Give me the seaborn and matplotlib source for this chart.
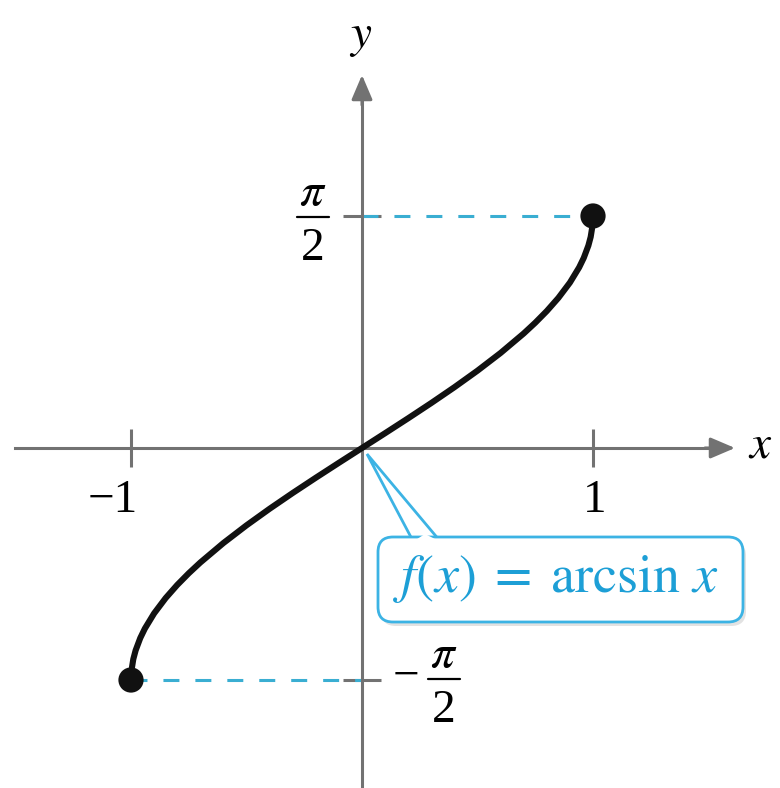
import matplotlib
matplotlib.use('Agg')
import matplotlib.pyplot as plt
from matplotlib.patches import FancyBboxPatch, Polygon
from matplotlib.lines import Line2D
from matplotlib.transforms import Affine2D
import seaborn as sns

# arcsin curve, values
curve_x = [-1.0, -0.998, -0.99, -0.98, -0.96, -0.94, -0.9, -0.85, -0.8, -0.75, -0.7,
           -0.6, -0.5, -0.4, -0.3, -0.2, -0.1, 0.0, 0.1, 0.2, 0.3, 0.4, 0.5, 0.6,
           0.7, 0.75, 0.8, 0.85, 0.9, 0.94, 0.96, 0.98, 0.99, 0.998, 1.0]
curve_y = [-1.5708, -1.5075, -1.4293, -1.3705, -1.2870, -1.2226, -1.1198, -1.0160, -0.9273, -0.8481, -0.7754,
           -0.6435, -0.5236, -0.4115, -0.3047, -0.2014, -0.1002, 0.0, 0.1002, 0.2014, 0.3047, 0.4115, 0.5236,
           0.6435, 0.7754, 0.8481, 0.9273, 1.0160, 1.1198, 1.2226, 1.2870, 1.3705, 1.4293, 1.5075, 1.5708]
end_x = [-1.0, 1.0]
end_y = [-1.5708, 1.5708]
x_ticks = [-1, 1]
x_tick_labels = ['\u22121', '1']
y_ticks = [-1.5708, 1.5708]
curve_label = r'$f(x)\;=\;\mathrm{arcsin}\ x$'

axis_col = '#727272'
dash_col = '#3aaed2'
text_col = '#1d9fd6'
box_col = '#3cb3e4'
ink = '#000000'

sns.set_style('white')
plt.rcParams['font.family'] = ['Liberation Serif', 'DejaVu Serif']
plt.rcParams['mathtext.fontset'] = 'stix'
plt.rcParams['lines.scale_dashes'] = False

# pixel layout of the reference: origin at (362, 448)
X0, Y0, SX, SY = 362.0, 448.0, 231.0, 147.7
W, H = 780, 788


def to_px(xd, yd):
    return X0 + SX * xd, Y0 - SY * yd


fig = plt.figure(figsize=(W / 100, H / 100), dpi=100)
ax = fig.add_axes([0, 0, 1, 1])
ax.set_xlim(-X0 / SX, (W - X0) / SX)
ax.set_ylim((Y0 - H) / SY, Y0 / SY)
ax.patch.set_alpha(0)

# pixel-coordinate transform (y down) for annotations
T = Affine2D().scale(1.0 / W, -1.0 / H).translate(0, 1) + fig.transFigure

# axes through origin
for s in ['top', 'right']:
    ax.spines[s].set_visible(False)
for s in ['left', 'bottom']:
    ax.spines[s].set_position(('data', 0))
    ax.spines[s].set_color(axis_col)
    ax.spines[s].set_linewidth(2.2)
ax.spines['bottom'].set_bounds(-(X0 - 15) / SX, (712 - X0) / SX)
ax.spines['left'].set_bounds((Y0 - H) / SY, (Y0 - 98) / SY)
ax.set_xticks(x_ticks)
ax.set_yticks(y_ticks)
ax.set_xticklabels([])
ax.set_yticklabels([])
ax.tick_params(bottom=True, left=True, direction='inout', length=28, width=2.2,
               color=axis_col)

arrow = dict(arrowstyle='-|>,head_length=0.75,head_width=0.32', mutation_scale=20,
             color=axis_col, lw=2.2, shrinkA=0, shrinkB=0)
ax.annotate('', xy=((735 - X0) / SX, 0), xytext=((705 - X0) / SX, 0), arrowprops=arrow)
ax.annotate('', xy=(0, (Y0 - 75) / SY), xytext=(0, (Y0 - 105) / SY), arrowprops=arrow)

# dashed guides to the end points
ax.plot([end_x[0], 0], [end_y[0], end_y[0]], color=dash_col, lw=2.2,
        linestyle=(0, (11.5, 11.5)), zorder=1)
ax.plot([0, end_x[1]], [end_y[1], end_y[1]], color=dash_col, lw=2.2,
        linestyle=(0, (11.5, 11.5)), zorder=1)

sns.lineplot(x=curve_x, y=curve_y, color='#111111', lw=4.4, estimator=None,
             sort=False, ax=ax, zorder=4, solid_capstyle='round')
sns.scatterplot(x=end_x, y=end_y, s=330, color='#111111', edgecolor='none',
                ax=ax, zorder=5)

# axis names
fs = 34
ax.text(361, 47, '$y$', transform=T, ha='center', va='baseline', fontsize=fs, color=ink)
ax.text(760, 458, '$x$', transform=T, ha='center', va='baseline', fontsize=fs, color=ink)

# x tick labels
for xv, lab in zip(x_ticks, x_tick_labels):
    tx, ty = to_px(xv, 0)
    if xv < 0:
        ax.text(tx + 7, 512, lab, transform=T, ha='right', va='baseline', fontsize=fs, color=ink)
    else:
        ax.text(tx + 2, 512, lab, transform=T, ha='center', va='baseline', fontsize=fs, color=ink)


def frac(cx, bar_y, half=16):
    ax.add_line(Line2D([cx - half, cx + half], [bar_y, bar_y], transform=T,
                       color=ink, lw=1.6))
    ax.text(cx, bar_y - 12, r'$\pi$', transform=T, ha='center', va='baseline',
            fontsize=fs, color=ink)
    ax.text(cx, bar_y + 43, '2', transform=T, ha='center', va='baseline',
            fontsize=fs, color=ink)


for yv in y_ticks:
    tx, ty = to_px(0, yv)
    if yv > 0:
        frac(tx - 49, ty + 1)
    else:
        frac(tx + 82, ty - 1)
        ax.text(tx + 44, ty + 9, '\u2212', transform=T, ha='center', va='baseline',
                fontsize=fs, color=ink)

# callout box
shadow = FancyBboxPatch((381, 541), 365, 85, boxstyle='round,pad=0,rounding_size=15',
                        transform=T, facecolor='#cfcfcf', edgecolor='none', alpha=0.6, zorder=5)
box = FancyBboxPatch((378, 537), 365, 85, boxstyle='round,pad=0,rounding_size=15',
                     transform=T, facecolor='white', edgecolor=box_col, lw=2.0, zorder=6)
ax.add_patch(shadow)
ax.add_patch(box)
pointer = Polygon([(413, 541), (367, 454), (440, 541)], closed=False, transform=T,
                  facecolor='white', edgecolor=box_col, lw=2.0, zorder=3.5)
cover = Polygon([(414, 541), (425, 534), (439, 541)], closed=True, transform=T,
                facecolor='white', edgecolor='none', zorder=6.5)
ax.add_patch(pointer)
ax.add_patch(cover)
ax.text(556, 579, curve_label, transform=T, ha='center', va='center', fontsize=39,
        color=text_col, zorder=7)

fig.savefig('out.png', dpi=100)
